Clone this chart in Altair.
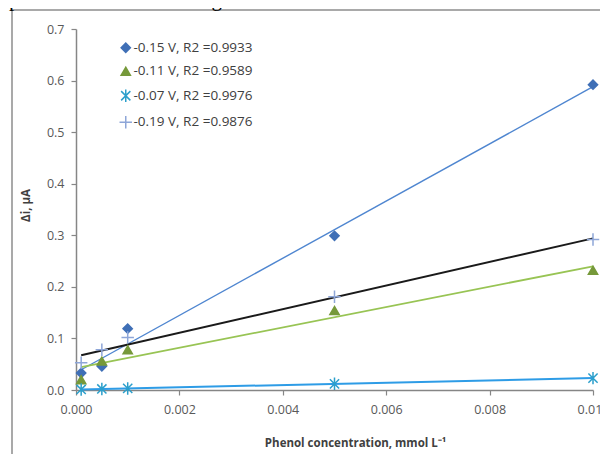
import altair as alt
import pandas as pd

# ---- data ----
x_vals = [0.0001, 0.0005, 0.001, 0.005, 0.01]
series_names = [
    "-0.15 V, R2 =0.9933",
    "-0.11 V, R2 =0.9589",
    "-0.07 V, R2 =0.9976",
    "-0.19 V, R2 =0.9876",
]
y_m015 = [0.033, 0.046, 0.119, 0.299, 0.592]
y_m011 = [0.020, 0.056, 0.078, 0.154, 0.232]
y_m007 = [0.001, 0.002, 0.003, 0.012, 0.023]
y_m019 = [0.053, 0.078, 0.102, 0.181, 0.292]
x_ticks = [0.0, 0.002, 0.004, 0.006, 0.008, 0.010]
y_ticks = [0.0, 0.1, 0.2, 0.3, 0.4, 0.5, 0.6, 0.7]
page_text = "potential in the following studies."
x_title = "Phenol concentration, mmol L\u207b\u00b9"
y_title = "\u0394i, \u00b5A"

# ---- styles ----
ASTER = "M0,-1.35L0,1.35M-1,-1L1,1M-1,1L1,-1"
PLUS = "M-1.35,0L1.35,0M0,-1.35L0,1.35"
marker_shapes = ["diamond", "triangle-up", ASTER, PLUS]
marker_fill = ["#3F6FB6", "#76993A", "transparent", "transparent"]
marker_stroke = ["#3F6FB6", "#76993A", "#2B9FCB", "#8EA6D8"]
line_colors = ["#4F86D0", "#98C454", "#2E9CE6", "#1A1A1A"]
line_widths = [1.4, 1.8, 2.0, 2.0]

W, H = 517, 361
FONT = "Open Sans"

rows = []
for name, ys in zip(series_names, [y_m015, y_m011, y_m007, y_m019]):
    for xv, yv in zip(x_vals, ys):
        rows.append({"series": name, "x": xv, "y": yv})
df = pd.DataFrame(rows)

xs = alt.Scale(domain=[0, 0.01], nice=False, zero=False)
ys_ = alt.Scale(domain=[0, 0.7], nice=False)

x_axis = alt.Axis(values=x_ticks, format=".3f", title=x_title, grid=False, labelFlush=False,
                  titleX=279, titleY=53, titleBaseline="middle", titleAnchor="middle")
y_axis = alt.Axis(values=y_ticks, format=".1f", title=y_title, grid=False, labelFlush=False,
                  titleX=-50, titleY=176, titleBaseline="middle", titleAngle=-90,
                  titleAnchor="middle")

base = alt.Chart(df)

lines = []
for name, col, lw in zip(series_names, line_colors, line_widths):
    lines.append(
        base.transform_filter(alt.datum.series == name)
        .transform_regression("x", "y")
        .mark_line(color=col, strokeWidth=lw)
        .encode(x=alt.X("x:Q", scale=xs, axis=x_axis), y=alt.Y("y:Q", scale=ys_, axis=y_axis))
    )

points = base.mark_point(size=85, strokeWidth=1.5, opacity=1, filled=False).encode(
    x=alt.X("x:Q", scale=xs, axis=x_axis),
    y=alt.Y("y:Q", scale=ys_, axis=y_axis),
    shape=alt.Shape("series:N", scale=alt.Scale(domain=series_names, range=marker_shapes),
                    legend=alt.Legend(title=None, orient="none", legendX=43, legendY=12,
                                      labelFont=FONT, labelFontSize=13.5, labelColor="#404040",
                                      rowPadding=7.5, labelOffset=1, padding=0, symbolSize=85,
                                      symbolStrokeWidth=1.5, symbolOpacity=1)),
    fill=alt.Fill("series:N", scale=alt.Scale(domain=series_names, range=marker_fill)),
    stroke=alt.Stroke("series:N", scale=alt.Scale(domain=series_names, range=marker_stroke)),
    order=alt.Order("x:Q"),
)

dummy = alt.Chart(pd.DataFrame({"k": [0]}))
frame_left = dummy.mark_rule(color="#8C8C8C", strokeWidth=1.5).encode(
    x=alt.value(-64), y=alt.value(-19), y2=alt.value(H + 90))
frame_top = dummy.mark_rule(color="#8C8C8C", strokeWidth=1.5).encode(
    x=alt.value(-64), x2=alt.value(W + 30), y=alt.value(-19))
top_text = dummy.mark_text(font="Liberation Serif", fontSize=21, align="left",
                           baseline="alphabetic", color="#000000").encode(
    x=alt.value(-67), y=alt.value(-23), text=alt.value(page_text))

chart = alt.layer(frame_left, frame_top, top_text, *lines, points).properties(
    width=W, height=H,
    autosize=alt.AutoSizeParams(type="none"),
    padding={"left": 68, "top": 21, "right": 7, "bottom": 64},
).configure_view(stroke=None).configure_axis(
    domainColor="#868686", domainWidth=1.5, tickColor="#868686", tickWidth=1.2,
    tickSize=5, labelFont=FONT, labelFontSize=12.5, labelColor="#595959",
    labelPadding=7, titleFont=FONT, titleFontSize=11.5, titleFontWeight="bold",
    titleColor="#404040",
).configure_axisX(labelPadding=8).configure_legend(symbolType="circle")

chart.save("out.html", embed_options={"renderer": "svg", "actions": False})
